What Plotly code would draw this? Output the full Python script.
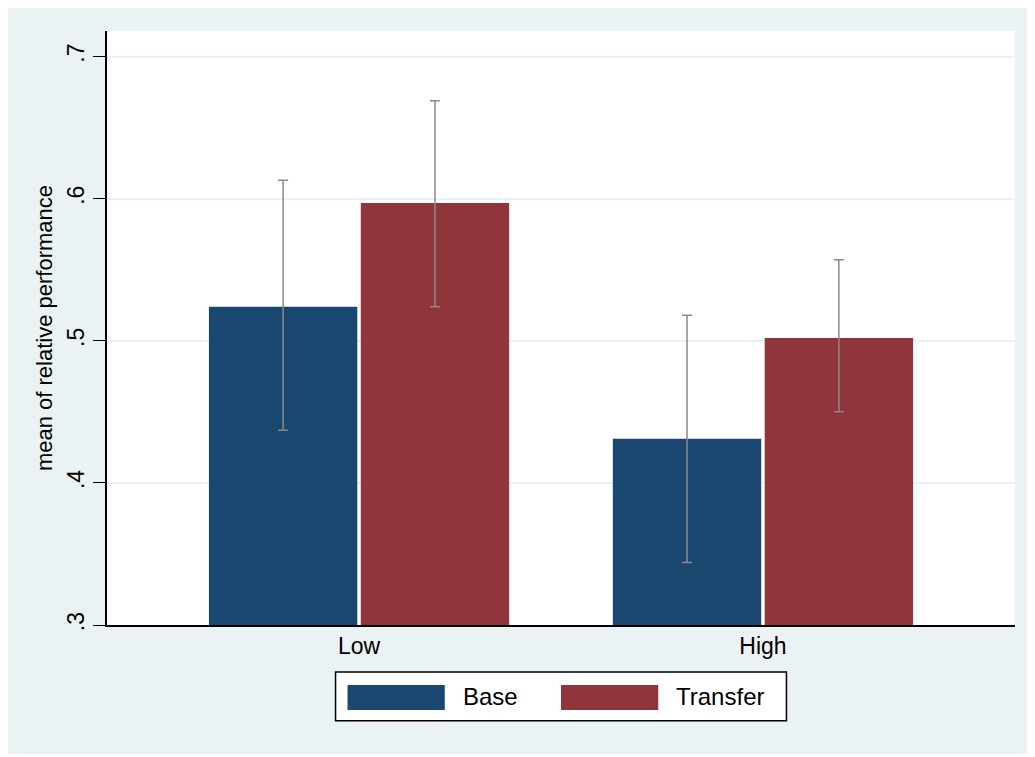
import plotly.graph_objects as go

# data
groups = ["Low", "High"]
base_mean = [0.524, 0.431]
base_lo = [0.437, 0.344]
base_hi = [0.613, 0.518]
transfer_mean = [0.597, 0.502]
transfer_lo = [0.524, 0.450]
transfer_hi = [0.669, 0.557]

BLUE = "#1A476F"
RED = "#90353B"
BG = "#EAF2F3"
FONT = "Liberation Sans, Arial, sans-serif"


def err(mean, lo, hi):
    return dict(type="data", symmetric=False,
                array=[h - m for h, m in zip(hi, mean)],
                arrayminus=[m - l for m, l in zip(mean, lo)],
                color="#8A8A8A", thickness=1.5, width=5)


fig = go.Figure()
fig.add_trace(go.Bar(x=groups, y=base_mean, name="Base", marker_color=BLUE,
                     marker_line_width=0, error_y=err(base_mean, base_lo, base_hi)))
fig.add_trace(go.Bar(x=groups, y=transfer_mean, name="Transfer", marker_color=RED,
                     marker_line_width=0, error_y=err(transfer_mean, transfer_lo, transfer_hi)))

# page has an 8px body margin, so the figure is a bit smaller than the window
fig.update_layout(
    width=1024, height=746,
    margin=dict(l=99, r=17, t=23, b=129),
    paper_bgcolor=BG, plot_bgcolor="white",
    barmode="group", bargap=0.248, bargroupgap=0.023,
    showlegend=False,
    font=dict(family=FONT, color="black"),
)
fig.update_xaxes(range=[-0.624, 1.624], showline=True, linecolor="black", linewidth=1.5,
                 ticks="", tickfont=dict(size=23), showgrid=False)
fig.update_yaxes(range=[0.3, 0.718], tickvals=[0.3, 0.4, 0.5, 0.6, 0.7],
                 ticktext=[".3", ".4", ".5", ".6", ".7"], tickangle=-90,
                 tickfont=dict(size=23), ticks="outside", ticklen=12, tickcolor="black",
                 showline=True, linecolor="black", linewidth=1.5,
                 gridcolor=BG, gridwidth=1.5, zeroline=False,
                 title=dict(text="mean of relative performance", font=dict(size=22), standoff=4))

# legend drawn as a Stata-style box below the plot
fig.add_shape(type="rect", xref="paper", yref="paper", x0=0.2517, x1=0.7483, y0=-0.161, y1=-0.079,
              line=dict(color="black", width=1.5), fillcolor="white")
fig.add_shape(type="rect", xref="paper", yref="paper", x0=0.2649, x1=0.3720, y0=-0.1429, y1=-0.1008,
              line_width=0, fillcolor=BLUE)
fig.add_shape(type="rect", xref="paper", yref="paper", x0=0.5, x1=0.6071, y0=-0.1429, y1=-0.1008,
              line_width=0, fillcolor=RED)
for x, label in [(0.3896, "Base"), (0.6247, "Transfer")]:
    fig.add_annotation(x=x, y=-0.121, xref="paper", yref="paper", text=label, showarrow=False,
                       xanchor="left", yanchor="middle", font=dict(size=24))

fig.write_html("out.html")
